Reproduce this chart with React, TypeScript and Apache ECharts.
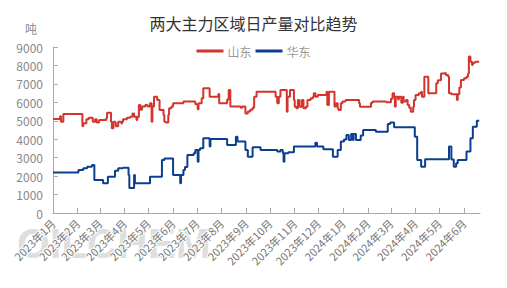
import React, { useEffect, useRef } from "react";
import * as echarts from "echarts";

const titleText = "两大主力区域日产量对比趋势";
const seriesNames = ["山东", "华东"];
const yTicks = { min: 0, max: 9000, interval: 1000 };

const sdDates = [
  "2023-01-01","2023-01-10","2023-01-11","2023-01-14","2023-02-07","2023-02-08","2023-02-12","2023-02-15","2023-02-20","2023-02-23",
  "2023-02-25","2023-02-28","2023-03-09","2023-03-10","2023-03-15","2023-03-16","2023-03-18","2023-03-20","2023-03-21","2023-03-24",
  "2023-03-28","2023-03-29","2023-03-30","2023-04-04","2023-04-08","2023-04-11","2023-04-13","2023-04-16","2023-04-17","2023-04-19",
  "2023-04-21","2023-04-23","2023-04-27","2023-04-30","2023-05-03","2023-05-05","2023-05-06","2023-05-08","2023-05-12","2023-05-15",
  "2023-05-18","2023-05-20","2023-05-21","2023-05-23","2023-05-26","2023-05-27","2023-05-30","2023-06-01","2023-06-14","2023-06-29",
  "2023-07-02","2023-07-03","2023-07-07","2023-07-09","2023-07-17","2023-07-28","2023-07-29","2023-08-08","2023-08-10","2023-08-12",
  "2023-08-25","2023-08-27","2023-08-31","2023-09-03","2023-09-06","2023-09-09","2023-09-11","2023-09-14","2023-10-08","2023-10-10",
  "2023-10-12","2023-10-14","2023-10-22","2023-10-23","2023-10-26","2023-10-31","2023-11-01","2023-11-03","2023-11-05","2023-11-07",
  "2023-11-10","2023-11-12","2023-11-15","2023-11-17","2023-11-21","2023-11-24","2023-11-25","2023-11-27","2023-11-30","2023-12-11",
  "2023-12-12","2023-12-14","2023-12-21","2023-12-23","2023-12-25","2023-12-26","2023-12-29","2023-12-31","2024-01-04","2024-01-21",
  "2024-01-22","2024-02-05","2024-02-07","2024-02-24","2024-03-01","2024-03-03","2024-03-05","2024-03-06","2024-03-07","2024-03-10",
  "2024-03-11","2024-03-14","2024-03-16","2024-03-17","2024-03-20","2024-03-22","2024-03-24","2024-03-26","2024-03-29","2024-03-30",
  "2024-04-01","2024-04-05","2024-04-08","2024-04-09","2024-04-12","2024-04-17","2024-04-27","2024-04-29","2024-05-03","2024-05-07",
  "2024-05-09","2024-05-12","2024-05-13","2024-05-16","2024-05-23","2024-05-24","2024-05-26","2024-05-28","2024-06-01","2024-06-04",
  "2024-06-06","2024-06-07","2024-06-09","2024-06-11","2024-06-12","2024-06-15","2024-06-20",
];
const sdValues = [
  5100,5250,4950,5370,4700,4860,5080,5170,4950,5080,
  4900,5040,5150,5440,4950,4590,4950,4900,4700,4950,
  4850,4950,5080,5170,5220,5400,5220,5040,5200,5860,
  5600,5780,5860,5780,5950,4950,5780,6300,6130,5590,
  5600,5310,4950,4900,5310,5680,5780,5950,6040,5900,
  5620,5950,6220,6760,6300,6450,5950,6150,6670,5780,
  5700,5780,5400,5500,5600,5700,6300,6580,6300,5950,
  6300,6670,5490,6300,6670,6130,5760,5680,6130,5760,
  6130,5680,5760,6130,6220,6300,6490,6300,6400,6580,
  5850,6580,5780,5950,5680,5590,5950,6040,6130,5950,
  5760,5980,6040,6000,6200,6490,6300,5760,6300,6150,
  6300,5980,6300,6050,6130,5860,5700,5490,5760,6130,
  6400,6490,6580,6300,7390,6490,7030,7200,7570,7600,
  7480,7390,6490,6440,6130,6440,6800,7210,7300,7390,
  7570,8480,8200,8030,8150,8200,8200,
];

const hdDates = [
  "2023-01-01","2023-02-02","2023-02-08","2023-02-13","2023-02-19","2023-02-22","2023-03-05","2023-03-11","2023-03-20","2023-03-24",
  "2023-03-30","2023-04-06","2023-04-07","2023-04-13","2023-04-14","2023-05-03","2023-05-18","2023-05-21","2023-06-01","2023-06-10",
  "2023-06-11","2023-06-14","2023-06-16","2023-06-19","2023-06-27","2023-06-29","2023-07-02","2023-07-03","2023-07-05","2023-07-09",
  "2023-07-17","2023-07-18","2023-08-08","2023-08-19","2023-08-21","2023-08-31","2023-09-03","2023-09-09","2023-09-19","2023-10-10",
  "2023-10-14","2023-10-17","2023-10-18","2023-10-19","2023-10-24","2023-10-31","2023-11-27","2023-11-29","2023-12-07","2023-12-19",
  "2023-12-25","2023-12-29","2024-01-02","2024-01-05","2024-01-08","2024-01-11","2024-01-13","2024-01-14","2024-01-17","2024-01-23",
  "2024-01-26","2024-02-11","2024-02-26","2024-02-29","2024-03-05","2024-03-31","2024-04-03","2024-04-08","2024-04-13","2024-05-13",
  "2024-05-16","2024-05-19","2024-05-22","2024-05-24","2024-06-04","2024-06-09","2024-06-12","2024-06-17","2024-06-20",
];
const hdValues = [
  2200,2330,2420,2510,2600,1790,1610,1970,2290,2420,
  2460,2060,1350,2060,1610,1970,2870,2960,2060,1610,
  2060,2330,2500,3150,3240,3420,2780,3420,3510,4050,
  3600,4010,3690,4140,3870,3420,3050,3560,3420,3330,
  3420,3240,2780,3240,3300,3600,3810,3600,3450,3050,
  3420,3870,3990,4230,3960,4280,3960,4280,3960,4200,
  4500,4410,4830,4900,4650,4140,2870,2510,2910,3600,
  2900,2510,2700,2870,3330,4050,4680,5000,5000,
];

const xMin = "2023-01-01";
const xMax = "2024-06-21";

export default function App() {
  const ref = useRef<HTMLDivElement>(null);
  useEffect(() => {
    if (!ref.current) return;
    const chart = echarts.init(ref.current, undefined, { renderer: "svg" });
    const day = 86400000;
    const sd = sdDates.map((d, i) => [d, sdValues[i]]);
    const hd = hdDates.map((d, i) => [d, hdValues[i]]);
    chart.setOption({
      animation: false,
      backgroundColor: "#ffffff",
      title: {
        text: titleText,
        left: "center",
        top: 10,
        textStyle: { fontSize: 16, fontWeight: "normal", color: "#333", fontFamily: "Noto Sans CJK SC" },
      },
      legend: {
        top: 40,
        left: "center",
        icon: "rect",
        itemWidth: 27,
        itemHeight: 3,
        itemGap: 4,
        data: seriesNames,
        textStyle: { fontSize: 12, color: "#999", fontFamily: "Noto Sans CJK SC", padding: [0, 0, 0, -1] },
      },
      graphic: [
        {
          type: "text",
          left: 17,
          top: 222,
          z: -10,
          silent: true,
          style: {
            text: "OILCHEM",
            fontSize: 42,
            fontWeight: "bold",
            fontFamily: "Liberation Sans",
            fill: "rgba(190,190,190,0.5)",
          },
        },
      ],
      grid: { left: 53, right: 27, top: 47, bottom: 75, outerBoundsMode: "none" },
      xAxis: {
        type: "time",
        min: xMin,
        max: xMax,
        splitNumber: 18,
        minInterval: 28 * day,
        maxInterval: 31 * day,
        axisLine: { lineStyle: { color: "#aaa" } },
        axisTick: { inside: true, length: 5, lineStyle: { color: "#aaa" } },
        splitLine: { show: false },
        axisLabel: {
          rotate: 45,
          fontSize: 11,
          color: "#777",
          margin: 8,
          fontFamily: "Noto Sans CJK SC",
          textBorderColor: "#fff",
          textBorderWidth: 2,
          showMaxLabel: false,
          formatter: (v: number) => {
            const d = new Date(v);
            return `${d.getFullYear()}年${d.getMonth() + 1}月`;
          },
        },
      },
      yAxis: {
        type: "value",
        min: yTicks.min,
        max: yTicks.max,
        interval: yTicks.interval,
        name: "吨",
        nameLocation: "end",
        nameGap: 13,
        nameTextStyle: { fontSize: 12, color: "#888", align: "right", padding: [0, 16, 0, 0], fontFamily: "Noto Sans CJK SC" },
        axisLine: { show: true, lineStyle: { color: "#aaa" } },
        axisTick: { show: true, inside: true, length: 5, lineStyle: { color: "#aaa" } },
        splitLine: { show: false },
        axisLabel: {
          fontSize: 12,
          color: "#888",
          margin: 10,
          fontFamily: "Noto Sans CJK SC",
          formatter: (v: number) => String(v),
        },
      },
      series: [
        {
          name: seriesNames[0],
          type: "line",
          step: "end",
          symbol: "none",
          data: sd,
          itemStyle: { color: "#d4342b" },
          lineStyle: { color: "#d4342b", width: 2 },
        },
        {
          name: seriesNames[1],
          type: "line",
          step: "end",
          symbol: "none",
          data: hd,
          itemStyle: { color: "#0c3e8f" },
          lineStyle: { color: "#0c3e8f", width: 2 },
        },
      ],
    });
    return () => chart.dispose();
  }, []);
  return <div ref={ref} style={{ position: "fixed", left: 0, top: 0, width: 507, height: 288 }} />;
}
